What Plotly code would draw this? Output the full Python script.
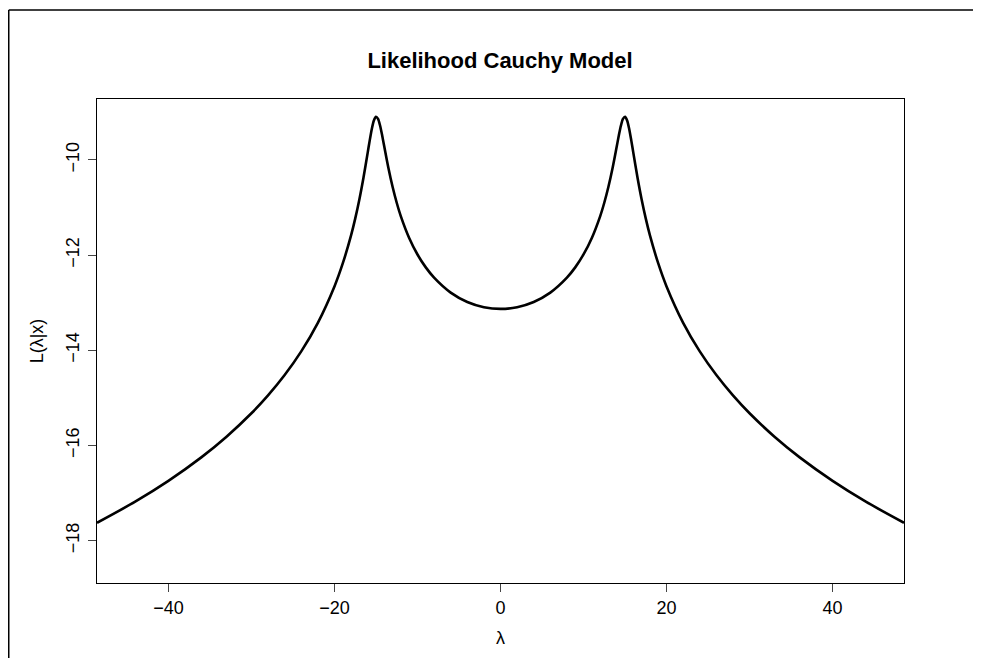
import plotly.graph_objects as go

# lambda values (x) and log-likelihood L(lambda|x)
lam = [-48.6, -44, -40, -36, -33, -30, -28, -26, -24, -22, -20, -19, -18, -17.5, -17,
       -16.5, -16, -15.75, -15.5, -15.25, -15, -14.75, -14.5, -14.25, -14, -13.5, -13,
       -12.5, -12, -11, -10, -9, -8, -6, -4, -2, 0,
       2, 4, 6, 8, 9, 10, 11, 12, 12.5, 13, 13.5, 14, 14.25, 14.5, 14.75, 15,
       15.25, 15.5, 15.75, 16, 16.5, 17, 17.5, 18, 19, 20, 22, 24, 26, 28, 30,
       33, 36, 40, 44, 48.6]
loglik = [-17.625, -17.181, -16.744, -16.245, -15.816, -15.324, -14.948, -14.521,
          -14.024, -13.424, -12.659, -12.176, -11.586, -11.234, -10.831, -10.369,
          -9.852, -9.589, -9.349, -9.170, -9.093, -9.137, -9.283, -9.489, -9.718,
          -10.169, -10.565, -10.900, -11.185, -11.640, -11.987, -12.258, -12.474,
          -12.788, -12.985, -13.095, -13.131,
          -13.095, -12.985, -12.788, -12.474, -12.258, -11.987, -11.640, -11.185,
          -10.900, -10.565, -10.169, -9.718, -9.489, -9.283, -9.137, -9.093,
          -9.170, -9.349, -9.589, -9.852, -10.369, -10.831, -11.234, -11.586,
          -12.176, -12.659, -13.424, -14.024, -14.521, -14.948, -15.324, -15.816,
          -16.245, -16.744, -17.181, -17.625]

x_ticks = [-40, -20, 0, 20, 40]
x_tick_labels = ["\u221240", "\u221220", "0", "20", "40"]
y_ticks = [-18, -16, -14, -12, -10]
y_tick_labels = ["\u221218", "\u221216", "\u221214", "\u221212", "\u221210"]

# page has an 8px body margin, so the figure is laid out in shifted coordinates
OFF = 8
W, H = 981 - 2 * OFF, 666 - 2 * OFF
L, R, T, B = 97 - OFF, 904 - OFF, 99 - OFF, 583 - OFF

fig = go.Figure()
fig.add_trace(go.Scatter(x=lam, y=loglik, mode="lines",
                         line=dict(color="black", width=2.6, shape="spline", smoothing=0.8),
                         showlegend=False, hoverinfo="skip"))

font = "Liberation Sans, Arial, Helvetica, sans-serif"

def px_x(p):
    return (p - L) / (R - L)

def px_y(p):
    return (B - p) / (B - T)

frame_line = dict(color="black", width=1.5)

fig.update_layout(
    width=W, height=H,
    margin=dict(l=L, r=W - R, t=T, b=H - B, pad=0),
    paper_bgcolor="white", plot_bgcolor="white",
    font=dict(family=font, size=18, color="black"),
    title=dict(text="<b>Likelihood Cauchy Model</b>", x=px_x(500 - OFF), xref="paper",
               xanchor="center", y=1 - (60 - OFF) / H, yanchor="middle",
               font=dict(family=font, size=22, color="black")),
    xaxis=dict(range=[-48.6, 48.6], tickvals=x_ticks, ticktext=x_tick_labels,
               showgrid=False, zeroline=False, showline=True, mirror=True,
               linecolor="black", linewidth=1, ticks="outside", ticklen=8,
               tickcolor="#444", tickwidth=1, ticklabelstandoff=0,
               tickfont=dict(size=18),
               title=dict(text="\u03bb", standoff=14, font=dict(size=18))),
    yaxis=dict(range=[-18.89, -8.72], tickvals=y_ticks, ticktext=y_tick_labels,
               showgrid=False, zeroline=False, showline=True, mirror=True,
               linecolor="black", linewidth=1, ticks="outside", ticklen=8,
               tickcolor="#444", tickwidth=1, tickangle=-90, ticklabelstandoff=2,
               tickfont=dict(size=18),
               title=dict(text="L(\u03bb|x)", standoff=14, font=dict(size=18))),
    shapes=[
        dict(type="line", xref="paper", yref="paper",
             x0=px_x(0.75), x1=px_x(W + 40), y0=px_y(2), y1=px_y(2),
             line=frame_line, layer="below"),
        dict(type="line", xref="paper", yref="paper",
             x0=px_x(0.75), x1=px_x(0.75), y0=px_y(2), y1=px_y(H + 40),
             line=frame_line, layer="below"),
    ],
)

fig.write_html("out.html")
